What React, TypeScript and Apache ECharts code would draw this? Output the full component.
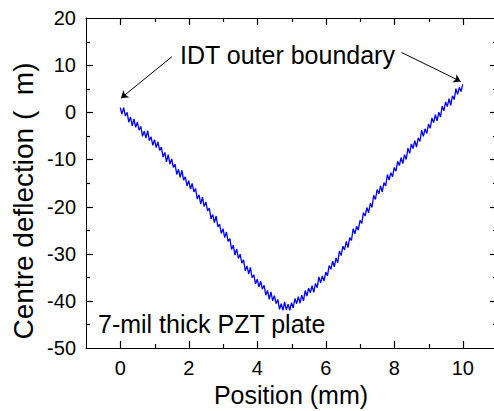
import React, { useEffect, useRef } from "react";
import * as echarts from "echarts";

// ---- Data ----
const POSITION_STEP_MM = 0.05; // sampling step of the measured scan
// Centre deflection (µm), x = 0.00 .. 2.45 mm
const deflectionA = [
  1.0, -0.4, 1.0, -0.8, 0.0, -2.1, -1.0, -2.9, -1.4, -3.2,
  -2.1, -3.8, -3.0, -5.1, -4.0, -5.5, -3.9, -6.0, -5.2, -7.0,
  -5.8, -7.5, -6.3, -8.1, -7.4, -9.5, -8.5, -10.5, -9.0, -11.0,
  -9.9, -11.7, -11.0, -13.2, -12.1, -13.8, -12.3, -14.4, -13.7, -15.6,
  -14.5, -16.3, -15.1, -16.9, -16.2, -18.4, -17.5, -19.5, -18.0, -20.0,
];
// x = 2.50 .. 4.95 mm
const deflectionB = [
  -19.0, -20.9, -20.3, -22.6, -21.7, -23.4, -22.0, -24.3, -23.7, -25.7,
  -24.7, -26.6, -25.4, -27.4, -26.8, -29.1, -28.2, -30.3, -29.0, -31.0,
  -30.1, -32.0, -31.3, -33.6, -32.6, -34.3, -32.9, -35.1, -34.5, -36.4,
  -35.4, -37.1, -35.8, -37.5, -36.7, -38.8, -37.8, -39.7, -38.1, -40.0,
  -38.9, -40.6, -39.7, -41.8, -40.6, -42.0, -40.2, -41.9, -40.7, -42.0,
];
// x = 5.00 .. 7.45 mm
const deflectionC = [
  -40.4, -41.5, -39.5, -40.6, -39.1, -40.5, -38.8, -40.0, -37.8, -39.0,
  -37.3, -38.3, -36.8, -38.2, -36.3, -37.2, -34.9, -36.2, -34.7, -35.8,
  -33.9, -34.7, -32.5, -33.3, -31.6, -32.8, -30.9, -31.9, -29.4, -30.4,
  -28.4, -29.2, -27.4, -28.7, -26.6, -27.2, -24.7, -25.8, -24.2, -25.0,
  -22.9, -23.6, -21.3, -22.0, -20.2, -21.3, -19.3, -20.2, -17.6, -18.5,
];
// x = 7.50 .. 10.00 mm
const deflectionD = [
  -16.4, -17.3, -15.6, -16.9, -14.9, -15.6, -13.2, -14.4, -12.8, -13.7,
  -11.7, -12.5, -10.4, -11.3, -9.6, -10.9, -9.0, -10.0, -7.6, -8.7,
  -6.7, -7.7, -6.0, -7.4, -5.4, -6.2, -3.8, -5.1, -3.5, -4.5,
  -2.5, -3.4, -1.2, -2.2, -0.5, -1.8, 0.0, -1.0, 1.3, 0.3,
  2.2, 1.2, 2.9, 1.5, 3.5, 2.7, 5.0, 3.8, 5.3, 4.4, 5.9,
];

const X_MIN = -1;
const X_MAX = 11;
const Y_MIN = -50;
const Y_MAX = 20;
const Y_INTERVAL = 10;

// Tick positions of the frame (all four sides, pointing inwards)
const xMajorTicks = [0, 2, 4, 6, 8, 10];
const xMinorTicks = [1, 3, 5, 7, 9];
const yMajorTicks = [-40, -30, -20, -10, 0, 10];
const yMinorTicks = [-45, -35, -25, -15, -5, 5, 15];

// Annotation arrows (data coordinates: start -> head)
const arrowLeft = [[1.51, 11.8], [0.02, 3.0]];
const arrowRight = [[8.21, 12.7], [9.94, 6.55]];

const annotationTop = "IDT outer boundary";
const annotationBottom = "7-mil thick PZT plate";
const xTitle = "Position (mm)";
const yTitle = "Centre deflection (  m)";

const FONT = '"Liberation Sans", Arial, Helvetica, sans-serif';

export default function App() {
  const ref = useRef<HTMLDivElement>(null);

  useEffect(() => {
    if (!ref.current) return;
    const chart = echarts.init(ref.current, null, { renderer: "svg" });

    const deflection = [...deflectionA, ...deflectionB, ...deflectionC, ...deflectionD];
    const data = deflection.map((v, i) => [Number((i * POSITION_STEP_MM).toFixed(2)), v]);

    const grid = { left: 86, top: 18, width: 411, height: 330, outerBoundsMode: "none" };
    const frameLine = { show: true, onZero: false, lineStyle: { color: "#000", width: 1 } };

    const xLabels = {
      type: "value",
      position: "bottom",
      min: X_MIN,
      max: X_MAX,
      splitNumber: 6,
      axisLine: frameLine,
      axisTick: { show: false },
      splitLine: { show: false },
      axisLabel: {
        show: true,
        fontSize: 20,
        fontFamily: FONT,
        color: "#000",
        margin: 10,
        formatter: (v: number) => (Math.abs(v % 2) < 1e-9 ? String(v) : ""),
      },
    };
    const xTop = {
      type: "value",
      position: "top",
      min: X_MIN,
      max: X_MAX,
      splitNumber: 6,
      axisLine: frameLine,
      axisTick: { show: false },
      splitLine: { show: false },
      axisLabel: { show: false },
    };
    const yLabels = {
      type: "value",
      position: "left",
      min: Y_MIN,
      max: Y_MAX,
      interval: Y_INTERVAL,
      axisLine: frameLine,
      axisTick: { show: false },
      splitLine: { show: false },
      axisLabel: { show: true, fontSize: 20, fontFamily: FONT, color: "#000", margin: 10 },
    };
    const yRight = {
      type: "value",
      position: "right",
      min: Y_MIN,
      max: Y_MAX,
      interval: Y_INTERVAL,
      axisLine: frameLine,
      axisTick: { show: false },
      splitLine: { show: false },
      axisLabel: { show: false },
    };

    const texts = [
      { type: "text", left: 180, top: 42, style: { text: annotationTop, fontSize: 25, fontFamily: FONT, fill: "#000" } },
      { type: "text", left: 98, top: 311, style: { text: annotationBottom, fontSize: 25, fontFamily: FONT, fill: "#000" } },
      {
        type: "text", x: 291, y: 395,
        style: { text: xTitle, fontSize: 25, fontFamily: FONT, fill: "#000", textAlign: "center", textVerticalAlign: "middle" },
      },
      {
        type: "text", x: 23, y: 201, rotation: Math.PI / 2,
        style: { text: yTitle, fontSize: 28, fontFamily: FONT, fill: "#000", textAlign: "center", textVerticalAlign: "middle" },
      },
    ];

    chart.setOption({
      animation: false,
      backgroundColor: "#fff",
      grid,
      xAxis: [xLabels, xTop],
      yAxis: [yLabels, yRight],
      series: [
        {
          type: "line",
          xAxisIndex: 0,
          yAxisIndex: 0,
          data,
          showSymbol: false,
          symbol: "none",
          lineStyle: { color: "#0000ff", width: 1.3 },
          silent: true,
          markLine: {
            silent: true,
            symbol: ["none", "arrow"],
            symbolSize: 7,
            label: { show: false },
            lineStyle: { color: "#000", width: 1, type: "solid" },
            emphasis: { disabled: true },
            data: [
              [{ coord: arrowLeft[0] }, { coord: arrowLeft[1] }],
              [{ coord: arrowRight[0] }, { coord: arrowRight[1] }],
            ],
          },
        },
      ],
      graphic: texts,
    });

    // Frame ticks placed through the chart's own scales.
    const toPx = (x: number, y: number) =>
      chart.convertToPixel({ xAxisIndex: 0, yAxisIndex: 0 }, [x, y]) as number[];
    const [left, top] = toPx(X_MIN, Y_MAX);
    const [right, bottom] = toPx(X_MAX, Y_MIN);
    const crisp = (v: number) => Math.round(v) + 0.5;
    const seg = (x1: number, y1: number, x2: number, y2: number) => ({
      type: "line",
      silent: true,
      z: 10,
      shape: { x1, y1, x2, y2 },
      style: { stroke: "#000", lineWidth: 1.2 },
    });
    const ticks: any[] = [];
    const addX = (vals: number[], len: number) =>
      vals.forEach((v) => {
        const px = crisp(toPx(v, 0)[0]);
        ticks.push(seg(px, bottom, px, bottom - len));
        ticks.push(seg(px, top, px, top + len));
      });
    const addY = (vals: number[], len: number) =>
      vals.forEach((v) => {
        const py = crisp(toPx(0, v)[1]);
        ticks.push(seg(left, py, left + len, py));
        ticks.push(seg(right, py, right - len, py));
      });
    addX(xMajorTicks, 7);
    addX(xMinorTicks, 4);
    addY(yMajorTicks, 7);
    addY(yMinorTicks, 4);

    chart.setOption({ graphic: [...texts, ...ticks] });

    return () => chart.dispose();
  }, []);

  return <div ref={ref} style={{ position: "fixed", left: 0, top: 0, width: 494, height: 411, background: "#fff" }} />;
}
